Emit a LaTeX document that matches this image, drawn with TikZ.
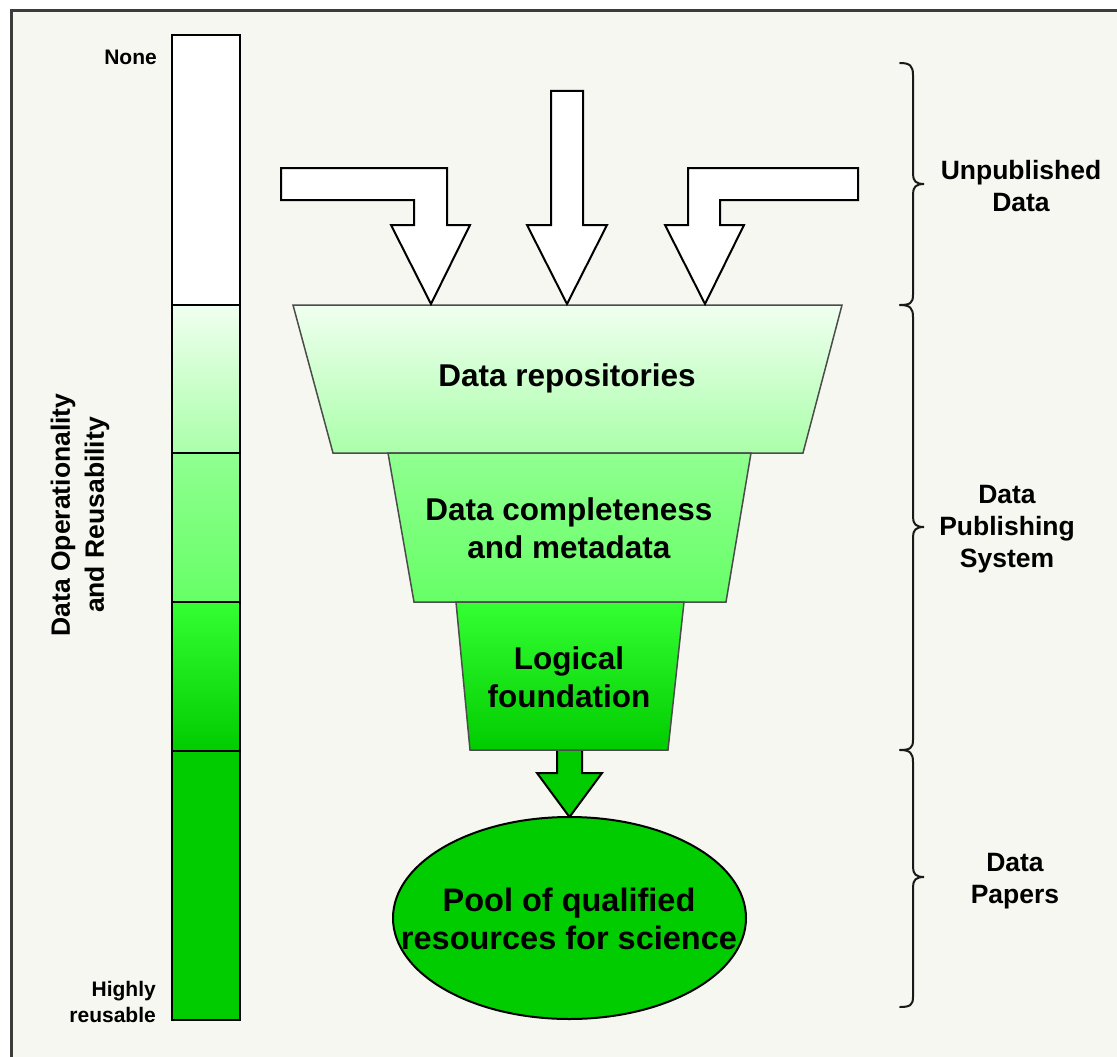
\documentclass[tikz,border=0pt]{standalone}
\usepackage{fontspec}
\setmainfont{Liberation Sans}
\definecolor{bg}{RGB}{245,247,240}
\definecolor{gA}{RGB}{240,255,240}
\definecolor{gB}{RGB}{170,255,170}
\definecolor{gC}{RGB}{144,255,144}
\definecolor{gD}{RGB}{102,255,102}
\definecolor{gE}{RGB}{51,255,51}
\definecolor{gF}{RGB}{0,204,0}
\definecolor{framecol}{RGB}{60,60,60}
\begin{document}
\begin{tikzpicture}[x=1pt,y=-1pt,
  outl/.style={draw=black,line width=2pt,line join=miter},
  funnelline/.style={draw=black!70,line width=1.5pt,line join=miter},
  bracestyle/.style={draw=black!90,line width=2pt,line cap=round},
  ftext/.style={font=\fontsize{31.5}{38}\selectfont\bfseries,align=center,inner sep=0pt},
  pooltext/.style={font=\fontsize{32.5}{38}\selectfont\bfseries,align=center,inner sep=0pt},
  sidetext/.style={font=\fontsize{26.5}{32}\selectfont\bfseries,align=center,inner sep=0pt},
  smalltext/.style={font=\fontsize{21}{25.5}\selectfont\bfseries,align=right,inner sep=0pt},
  vtext/.style={font=\fontsize{26.5}{34}\selectfont\bfseries,align=center,inner sep=0pt,rotate=90}]
\useasboundingbox (0,0) rectangle (1117,1057);
\clip (0,0) rectangle (1117,1057);
\fill[white] (0,0) rectangle (1117,1057);
\draw[fill=bg,draw=framecol,line width=3.2pt] (11.5,10.5) rectangle (1140,1080);

% left scale bar
\draw[outl,fill=white] (172,35) rectangle (239.5,305);
\draw[outl,top color=gA,bottom color=gB] (172,305) rectangle (239.5,453);
\draw[outl,top color=gC,bottom color=gD] (172,453) rectangle (239.5,602);
\draw[outl,top color=gE,bottom color=gF] (172,602) rectangle (239.5,751);
\draw[outl,fill=gF] (172,751) rectangle (239.5,1020);
\node[smalltext,anchor=east] (none) at (157,57) {None};
\node[smalltext,anchor=east] (high) at (156,1002) {Highly\\reusable};
\node[vtext] (reuse) at (80,515) {Data Operationality\\and Reusability};

% stem arrow
\draw[outl,fill=gF] (557,748) -- (582,748) -- (582,773) -- (602,773) -- (569.5,817) -- (537,773) -- (557,773) -- cycle;

% funnel
\draw[funnelline,top color=gA,bottom color=gB] (293,305) -- (842,305) -- (803,453) -- (333,453) -- cycle;
\draw[funnelline,top color=gC,bottom color=gD] (388,453) -- (751,453) -- (726,602) -- (414,602) -- cycle;
\draw[funnelline,top color=gE,bottom color=gF] (456,602) -- (684,602) -- (668,750) -- (470,750) -- cycle;
\node[ftext] (repo) at (567,378) {Data repositories};
\node[ftext] (compl) at (569,528) {Data completeness\\and metadata};
\node[ftext] (logic) at (569,677) {Logical\\foundation};

% top arrows
\draw[outl,fill=white] (281,168) -- (447,168) -- (447,225) -- (470,225) -- (431,304) -- (391,225) -- (414,225) -- (414,200) -- (281,200) -- cycle;
\draw[outl,fill=white] (551,91) -- (583,91) -- (583,225) -- (607,225) -- (567,304) -- (527,225) -- (551,225) -- cycle;
\draw[outl,fill=white] (858,168) -- (688,168) -- (688,225) -- (665,225) -- (705,304) -- (744,225) -- (720,225) -- (720,200) -- (858,200) -- cycle;

% pool
\draw[outl,fill=gF] (569.5,918) ellipse [x radius=176.5,y radius=101];
\node[pooltext] (pool) at (569,919) {Pool of qualified\\resources for science};

% braces
\draw[bracestyle] (900,63) .. controls (910,63) and (913,66) .. (913,75) -- (913,174) .. controls (913,181) and (916,184) .. (924,184) .. controls (916,184) and (913,187) .. (913,194) -- (913,295) .. controls (913,303) and (910,305) .. (900,305);
\draw[bracestyle] (900,305) .. controls (910,305) and (913,308) .. (913,317) -- (913,517) .. controls (913,524) and (916,527) .. (924,527) .. controls (916,527) and (913,530) .. (913,537) -- (913,740) .. controls (913,748) and (910,750) .. (900,750);
\draw[bracestyle] (900,750) .. controls (910,750) and (913,753) .. (913,762) -- (913,867) .. controls (913,874) and (916,877) .. (924,877) .. controls (916,877) and (913,880) .. (913,887) -- (913,997) .. controls (913,1005) and (910,1007) .. (900,1007);
\node[sidetext] (unpub) at (1021,186) {Unpublished\\Data};
\node[sidetext] (pubsys) at (1007,529) {Data\\Publishing\\System};
\node[sidetext] (papers) at (1015,881) {Data\\Papers};
\end{tikzpicture}
\end{document}
